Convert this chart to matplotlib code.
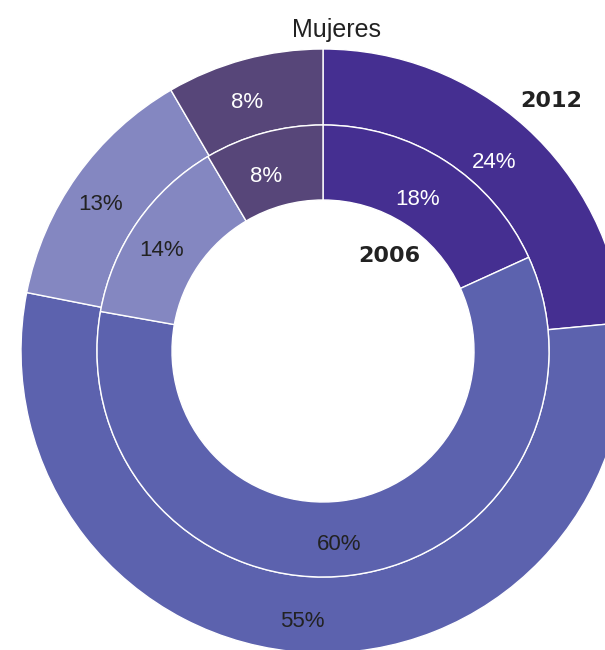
import matplotlib
matplotlib.use("Agg")
import matplotlib.pyplot as plt
import numpy as np

title = "Mujeres"
years = ["2012", "2006"]
values_2012 = [23.5, 54.6, 13.5, 8.4]
labels_2012 = ["24%", "55%", "13%", "8%"]
values_2006 = [18.2, 59.6, 13.7, 8.5]
labels_2006 = ["18%", "60%", "14%", "8%"]
colors = ["#452F91", "#5C62AE", "#8487C1", "#574679"]
text_colors = ["white", "#222222", "#222222", "white"]

plt.rcParams['font.family'] = ['Liberation Sans', 'DejaVu Sans']

fig = plt.figure(figsize=(6.05, 6.5), dpi=100)
ax = fig.add_axes([0, 0, 1, 1])
ax.set_aspect('equal')

cx, cy = 323, -351
r_out, r_mid, r_in = 302, 226, 151

w1, t1 = ax.pie(values_2012, radius=r_out, center=(cx, cy), colors=colors,
                startangle=90, counterclock=False,
                wedgeprops=dict(width=r_out - r_mid, edgecolor='white', linewidth=1),
                frame=True)
w2, t2 = ax.pie(values_2006, radius=r_mid, center=(cx, cy), colors=colors,
                startangle=90, counterclock=False,
                wedgeprops=dict(width=r_mid - r_in, edgecolor='white', linewidth=1),
                frame=True)

def place(wedges, labels, dist):
    for w, lab, c in zip(wedges, labels, text_colors):
        ang = np.deg2rad((w.theta1 + w.theta2) / 2)
        x = cx + dist * np.cos(ang) - 7
        y = cy + dist * np.sin(ang) - 4
        ax.text(x, y, lab, ha='center', va='center_baseline', fontsize=16, color=c)

place(w1, labels_2012, 264)
place(w2, labels_2006, 188)

ax.set_xlim(0, 605)
ax.set_ylim(-650, 0)
ax.axis('off')

ax.text(337, -27, title, ha='center', va='center_baseline', fontsize=18, color='#222222')
ax.text(551, -101, years[0], ha='center', va='center', fontsize=16,
        fontweight='bold', color='#222222', family='DejaVu Sans')
ax.text(389, -256, years[1], ha='center', va='center', fontsize=16,
        fontweight='bold', color='#222222', family='DejaVu Sans')

fig.savefig("out.png", dpi=100)
